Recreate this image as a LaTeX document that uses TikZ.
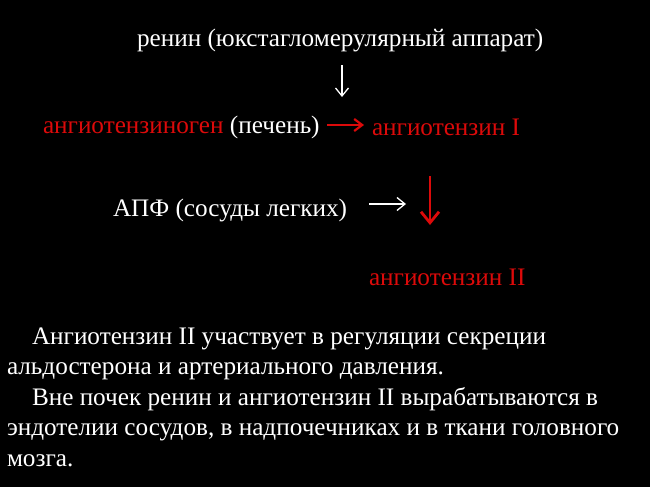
\documentclass[tikz,border=0pt]{standalone}
\usepackage{fontspec}
\setmainfont{Liberation Serif}
\usepackage{xcolor}
\usepackage{tikz}
\usetikzlibrary{positioning,arrows.meta}

\definecolor{slidered}{RGB}{220,10,10}

\begin{document}
\begin{tikzpicture}[
		x=1pt, y=-1pt,
		every node/.style={
			inner sep=0pt, outer sep=0pt,
			font=\fontsize{25.2}{30.5}\selectfont, text=white
		},
		redtext/.style={text=slidered},
		whitearrow/.style={
			draw=white, line width=1.3pt, -{Straight Barb[length=8pt,width=13pt]}
		},
		redarrow/.style={
			draw=slidered, line width=2.2pt, -{Straight Barb[length=8pt,width=12pt]}
		},
		bigredarrow/.style={
			draw=slidered, line width=2.8pt, -{Straight Barb[length=11pt,width=18pt]}
		}
	]
	% фон слайда
	\fill[black] (0,0) rectangle (650,487);
	\useasboundingbox (0,0) rectangle (650,487);
	
	% схема: ренин -> ангиотензин I -> ангиотензин II
	\node[anchor=base west] (renin) at (137,47) {ренин (юкстагломерулярный аппарат)};
	\node[anchor=base west] (angiogen) at (43,133) {\textcolor{slidered}{ангиотензиноген} (печень)};
	\node[anchor=base west, redtext] (angioI) at (372,135) {ангиотензин I};
	\node[anchor=base west] (apf) at (113,216) {АПФ (сосуды легких)};
	\node[anchor=base west, redtext] (angioII) at (369,285) {ангиотензин II};
	
	% концы стрелок
	\coordinate (downA) at (342,65);
	\coordinate (downB) at (342,97);
	\coordinate (rightA) at (327,125);
	\coordinate (rightB) at (364,125);
	\coordinate (apfA) at (369,204);
	\coordinate (apfB) at (406,204);
	\coordinate (redA) at (430,176);
	\coordinate (redB) at (430,225);
	
	\draw[whitearrow] (downA) -- (downB);
	\draw[redarrow] (rightA) -- (rightB);
	\draw[whitearrow] (apfA) -- (apfB);
	\draw[bigredarrow] (redA) -- (redB);
	
	% текст внизу (base = последняя строка)
	\node[anchor=base west, align=left] (note) at (7,466) {%
		\hspace*{25pt}Ангиотензин II участвует в регуляции секреции\\
		альдостерона и артериального давления.\\
		\hspace*{25pt}Вне почек ренин и ангиотензин II вырабатываются в\\
		эндотелии сосудов, в надпочечниках и в ткани головного\\
		мозга.};
\end{tikzpicture}
\end{document}
